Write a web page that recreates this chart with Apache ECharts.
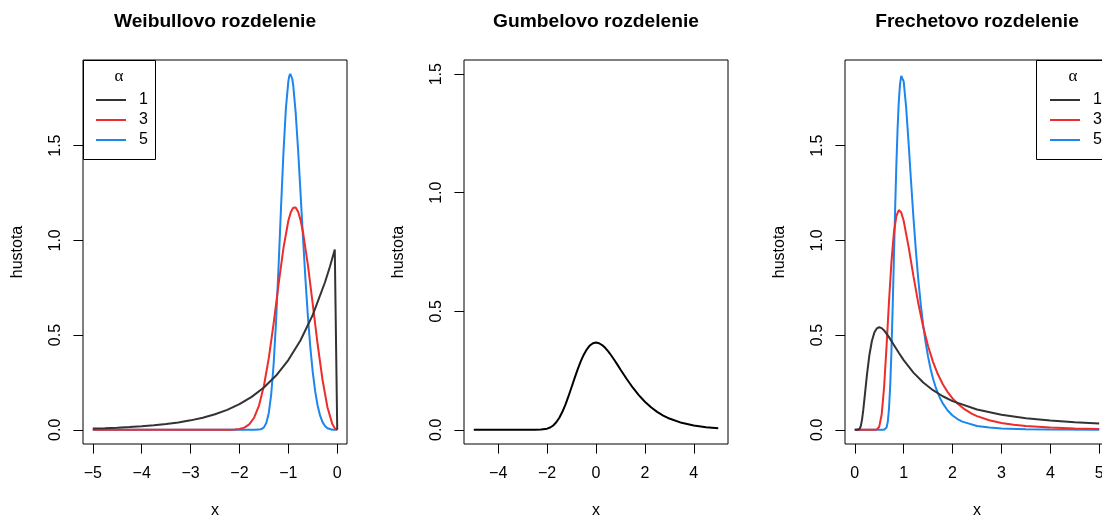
<!DOCTYPE html>
<html>
<head>
<meta charset="utf-8">
<title>Rozdelenia extrémnych hodnôt</title>
<script src="https://cdn.jsdelivr.net/npm/echarts@6/dist/echarts.min.js"></script>
<style>
  html, body { margin: 0; padding: 0; background: #ffffff; }
  #chart { width: 1102px; height: 516px; }
</style>
</head>
<body>
<div id="chart"></div>
<script>
// Hustoty rozdelení pre tvarové parametre alpha = 1, 3, 5

// Weibullovo rozdelenie (x <= 0)
const weibullX1 = [-5, -4.75, -4.5, -4.25, -4, -3.75, -3.5, -3.25, -3, -2.75, -2.5, -2.25, -2, -1.75, -1.5, -1.25, -1, -0.75, -0.5, -0.25, -0.15, -0.05, 0];
const weibullY1 = [0.0067, 0.0087, 0.0111, 0.0143, 0.0183, 0.0235, 0.0302, 0.0388, 0.0498, 0.0639, 0.0821, 0.1054, 0.1353, 0.1738, 0.2231, 0.2865, 0.3679, 0.4724, 0.6065, 0.7788, 0.8607, 0.9512, 0];

const weibullX3 = [-5, -2.5, -2.3, -2.2, -2.1, -2, -1.9, -1.8, -1.7, -1.6, -1.5, -1.4, -1.3, -1.2, -1.1, -1, -0.95, -0.9, -0.87, -0.85, -0.8, -0.75, -0.7, -0.6, -0.5, -0.4, -0.3, -0.2, -0.1, -0.05, 0];
const weibullY3 = [0, 0, 0.0001, 0.0003, 0.0013, 0.0040, 0.0114, 0.0285, 0.0637, 0.1278, 0.2310, 0.3781, 0.5634, 0.7672, 0.9590, 1.1036, 1.1488, 1.1723, 1.1753, 1.1729, 1.1507, 1.1067, 1.0431, 0.8702, 0.6619, 0.4502, 0.2628, 0.1190, 0.0300, 0.0075, 0];

const weibullX5 = [-5, -1.7, -1.6, -1.55, -1.5, -1.45, -1.4, -1.35, -1.3, -1.25, -1.2, -1.15, -1.1, -1.05, -1, -0.98, -0.96, -0.94, -0.92, -0.9, -0.85, -0.8, -0.75, -0.7, -0.65, -0.6, -0.55, -0.5, -0.45, -0.4, -0.35, -0.3, -0.25, -0.2, -0.1, 0];
const weibullY5 = [0, 0, 0.0009, 0.0038, 0.0127, 0.0364, 0.0887, 0.1875, 0.3486, 0.5771, 0.8609, 1.1700, 1.4627, 1.6963, 1.8394, 1.8679, 1.8792, 1.8738, 1.8530, 1.8177, 1.6749, 1.4758, 1.2479, 1.0148, 0.7948, 0.5995, 0.4351, 0.3029, 0.2013, 0.1267, 0.0747, 0.0405, 0.0195, 0.0080, 0.0005, 0];

// Gumbelovo rozdelenie
const gumbelX = [-5, -3, -2.75, -2.5, -2.25, -2, -1.875, -1.75, -1.625, -1.5, -1.375, -1.25, -1.125, -1, -0.875, -0.75, -0.625, -0.5, -0.375, -0.25, -0.125, 0, 0.125, 0.25, 0.375, 0.5, 0.625, 0.75, 0.875, 1, 1.25, 1.5, 1.75, 2, 2.25, 2.5, 2.75, 3, 3.5, 4, 4.5, 5];
const gumbelY = [0, 0, 0, 0.0001, 0.0007, 0.0046, 0.0096, 0.0182, 0.0316, 0.0507, 0.0758, 0.1064, 0.1416, 0.1794, 0.2179, 0.2549, 0.2885, 0.3170, 0.3396, 0.3556, 0.3649, 0.3679, 0.3651, 0.3574, 0.3456, 0.3307, 0.3134, 0.2945, 0.2748, 0.2546, 0.2151, 0.1785, 0.1461, 0.1182, 0.0949, 0.0756, 0.0600, 0.0474, 0.0293, 0.0180, 0.0110, 0.0067];

// Frechetovo rozdelenie (x >= 0)
const frechetX1 = [0, 0.05, 0.1, 0.125, 0.15, 0.175, 0.2, 0.25, 0.3, 0.35, 0.4, 0.45, 0.5, 0.55, 0.6, 0.7, 0.8, 0.9, 1, 1.2, 1.4, 1.6, 1.8, 2, 2.5, 3, 3.5, 4, 4.5, 5];
const frechetY1 = [0, 0, 0.0045, 0.0215, 0.0566, 0.1077, 0.1684, 0.2930, 0.3963, 0.4688, 0.5130, 0.5353, 0.5413, 0.5366, 0.5247, 0.4892, 0.4477, 0.4064, 0.3679, 0.3018, 0.2497, 0.2091, 0.1771, 0.1516, 0.1073, 0.0796, 0.0613, 0.0487, 0.0395, 0.0327];

const frechetX3 = [0, 0.4, 0.45, 0.5, 0.55, 0.6, 0.65, 0.7, 0.75, 0.8, 0.85, 0.9, 0.95, 1, 1.1, 1.2, 1.3, 1.4, 1.5, 1.6, 1.7, 1.8, 1.9, 2, 2.1, 2.25, 2.4, 2.5, 2.75, 3, 3.25, 3.5, 4, 4.5, 5];
const frechetY3 = [0, 0, 0.0013, 0.0161, 0.0804, 0.2259, 0.4407, 0.6768, 0.8860, 1.0393, 1.1282, 1.1601, 1.1474, 1.1036, 0.9667, 0.8111, 0.6663, 0.5424, 0.4407, 0.3586, 0.2931, 0.2407, 0.1990, 0.1655, 0.1385, 0.1072, 0.0841, 0.0720, 0.0500, 0.0357, 0.0261, 0.0195, 0.0115, 0.0072, 0.0048];

const frechetX5 = [0, 0.55, 0.6, 0.65, 0.675, 0.7, 0.725, 0.75, 0.775, 0.8, 0.825, 0.85, 0.875, 0.9, 0.925, 0.95, 0.965, 0.975, 1, 1.05, 1.1, 1.15, 1.2, 1.25, 1.3, 1.35, 1.4, 1.45, 1.5, 1.55, 1.6, 1.65, 1.7, 1.75, 1.8, 1.9, 2, 2.1, 2.2, 2.5, 2.75, 3, 3.5, 4, 5];
const frechetY5 = [0, 0, 0.0003, 0.0120, 0.0420, 0.1108, 0.2337, 0.4155, 0.6451, 0.9016, 1.1587, 1.3920, 1.5854, 1.7302, 1.8231, 1.8678, 1.8742, 1.8705, 1.8394, 1.7043, 1.5168, 1.3148, 1.1204, 0.9445, 0.7914, 0.6609, 0.5514, 0.4602, 0.3848, 0.3224, 0.2709, 0.2283, 0.1931, 0.1638, 0.1394, 0.1021, 0.0757, 0.0569, 0.0433, 0.0203, 0.0115, 0.0068, 0.0027, 0.0012, 0.0003];

// Popisy osí
const titles = ['Weibullovo rozdelenie', 'Gumbelovo rozdelenie', 'Frechetovo rozdelenie'];
const alphaNames = ['1', '3', '5'];
const xTicks = [[-5, -4, -3, -2, -1, 0], [-4, -2, 0, 2, 4], [0, 1, 2, 3, 4, 5]];
const yTicks = [[0, 0.5, 1, 1.5], [0, 0.5, 1, 1.5], [0, 0.5, 1, 1.5]];

const COLORS = { '1': '#333333', '3': '#EE2C2C', '5': '#1C86EE' };
const FONT = '"Liberation Sans", Arial, Helvetica, sans-serif';

const zip = (xs, ys) => xs.map((x, i) => [x, ys[i]]);

const panels = [
  { left: 83, xMin: -5.2, xMax: 0.2, yMin: -0.075, yMax: 1.952 },
  { left: 464, xMin: -5.4, xMax: 5.4, yMin: -0.06, yMax: 1.56 },
  { left: 845, xMin: -0.2, xMax: 5.2, yMin: -0.075, yMax: 1.952 }
];
const PANEL_W = 264, PANEL_TOP = 60, PANEL_H = 384;

const grids = panels.map(p => ({
  left: p.left, top: PANEL_TOP, width: PANEL_W, height: PANEL_H,
  show: true, borderColor: '#000', borderWidth: 1, backgroundColor: 'transparent',
  containLabel: false, outerBoundsMode: 'none'
}));

const xAxes = panels.map((p, i) => ({
  type: 'value', gridIndex: i, min: p.xMin, max: p.xMax, position: 'bottom',
  name: 'x', nameLocation: 'middle', nameGap: 59,
  nameTextStyle: { fontSize: 16, color: '#000', fontFamily: FONT },
  axisLine: { show: false, onZero: false },
  splitLine: { show: false },
  axisTick: { show: true, length: 9.6, customValues: xTicks[i], lineStyle: { color: '#000', width: 1 } },
  axisLabel: {
    customValues: xTicks[i], margin: 22, fontSize: 16, color: '#000', fontFamily: FONT,
    formatter: v => String(v).replace('-', '\u2212')
  }
}));

const yAxes = panels.map((p, i) => ({
  type: 'value', gridIndex: i, min: p.yMin, max: p.yMax, position: 'left',
  name: 'hustota', nameLocation: 'middle', nameGap: 57,
  nameTextStyle: { fontSize: 16, color: '#000', fontFamily: FONT },
  axisLine: { show: false, onZero: false },
  splitLine: { show: false },
  axisTick: { show: true, length: 9.6, customValues: yTicks[i], lineStyle: { color: '#000', width: 1 } },
  axisLabel: {
    customValues: yTicks[i], margin: 19, rotate: 90, fontSize: 16, color: '#000', fontFamily: FONT,
    formatter: v => v.toFixed(1)
  }
}));

function curve(name, idx, xs, ys, color) {
  return {
    name: name, type: 'line', xAxisIndex: idx, yAxisIndex: idx,
    data: zip(xs, ys), symbol: 'none', smooth: false, animation: false,
    lineStyle: { color: color, width: 2 }, itemStyle: { color: color },
    emphasis: { disabled: true }, z: 2
  };
}

const series = [
  curve('5', 0, weibullX5, weibullY5, COLORS['5']),
  curve('3', 0, weibullX3, weibullY3, COLORS['3']),
  curve('1', 0, weibullX1, weibullY1, COLORS['1']),
  curve('gumbel', 1, gumbelX, gumbelY, '#000000'),
  curve('5', 2, frechetX5, frechetY5, COLORS['5']),
  curve('3', 2, frechetX3, frechetY3, COLORS['3']),
  curve('1', 2, frechetX1, frechetY1, COLORS['1'])
];

const titleCenters = [215, 596, 977];
const title = titles.map((t, i) => ({
  text: t, left: titleCenters[i], top: 12, textAlign: 'center', padding: 0,
  textStyle: { fontSize: 19.2, fontWeight: 'bold', color: '#000', fontFamily: FONT }
}));

// Legendy s nadpisom alpha v rámčeku
const legendBoxes = [
  { x: 83, w: 72, lineLeft: 96, alphaX: 119 },
  { x: 1036, w: 90, lineLeft: 1050, alphaX: 1073 }
];
const legend = legendBoxes.map(b => ({
  left: b.lineLeft, top: 92, orient: 'vertical', padding: 0,
  itemWidth: 30, itemHeight: 2, itemGap: 4, icon: 'rect', selectedMode: false,
  data: alphaNames, z: 10,
  textStyle: { fontSize: 16, lineHeight: 16, color: '#000', fontFamily: FONT, padding: [0, 0, 0, 8] }
}));

const graphic = [];
legendBoxes.forEach(b => {
  graphic.push({
    type: 'rect', z: 5,
    shape: { x: b.x + 0.5, y: 60.5, width: b.w, height: 99 },
    style: { fill: '#ffffff', stroke: '#000', lineWidth: 1 }
  });
  graphic.push({
    type: 'text', z: 6, x: b.alphaX, y: 77,
    style: { text: '\u03b1', fontSize: 17, fontFamily: '"Liberation Serif", "DejaVu Serif", serif', fill: '#000', align: 'center', verticalAlign: 'middle' }
  });
});

const chart = echarts.init(document.getElementById('chart'), null, { renderer: 'canvas' });
chart.setOption({
  backgroundColor: '#ffffff',
  animation: false,
  title: title,
  grid: grids,
  xAxis: xAxes,
  yAxis: yAxes,
  legend: legend,
  graphic: graphic,
  series: series
});
</script>
</body>
</html>
